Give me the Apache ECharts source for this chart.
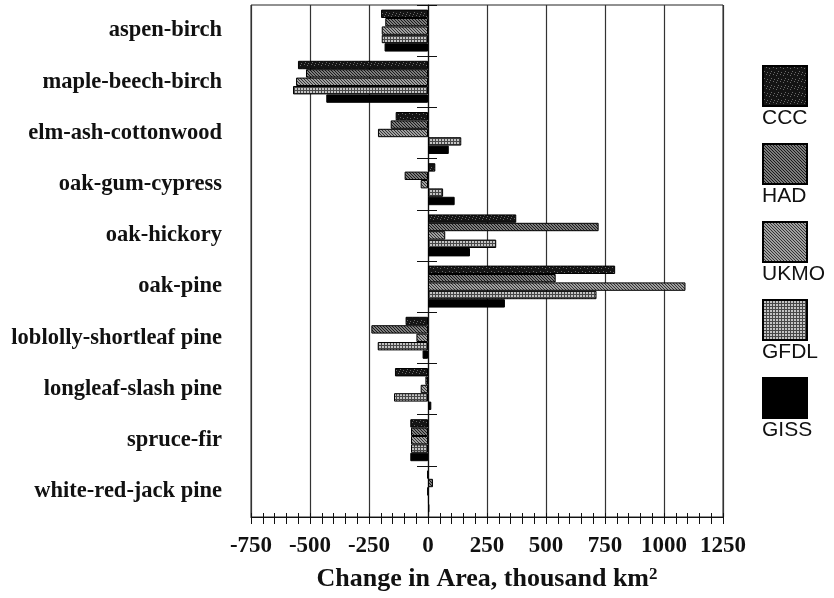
<!DOCTYPE html>
<html><head><meta charset="utf-8">
<script src="https://cdn.jsdelivr.net/npm/echarts@6/dist/echarts.min.js"></script>
<style>html,body{margin:0;padding:0;background:#fff}#c{width:834px;height:598px}</style>
</head><body><div id="c"></div>
<script>
const categories = ['aspen-birch','maple-beech-birch','elm-ash-cottonwood','oak-gum-cypress','oak-hickory','oak-pine','loblolly-shortleaf pine','longleaf-slash pine','spruce-fir','white-red-jack pine'];
const seriesNames = ['CCC','HAD','UKMO','GFDL','GISS'];
const ccc  = [-199,-551,-137, 31,374, 793, -95,-140,-75,-3];
const had  = [-181,-517,-158,-99,723, 541,-240, -11,-72,21];
const ukmo = [-196,-559,-212,-31, 73,1091, -49, -31,-72,-2];
const gfdl = [-196,-572, 141, 64,289, 714,-213,-144,-72, 4];
const giss = [-184,-431,  88,113,178, 326, -23,  14,-75, 6];
const xTicks = {min:-750, max:1250, interval:250};

function makePattern(size, fn){
  const c = document.createElement('canvas'); c.width = size; c.height = size;
  const ctx = c.getContext('2d');
  for(let y=0;y<size;y++) for(let x=0;x<size;x++){ ctx.fillStyle = fn(x,y); ctx.fillRect(x,y,1,1); }
  return {image:c, repeat:'repeat'};
}
const pCCC = makePattern(7,(x,y)=>{const s=(x*3+y*5)%7; return (s===0 && (x+y)%2===0)?'#6a6a6a':'#141414';});
const pHAD = makePattern(3,(x,y)=>((x-y+6)%3===0)?'#1a1a1a':'#7c7c7c');
const pUKMO = makePattern(3,(x,y)=>((x-y+6)%3===0)?'#333333':'#a0a0a0');
const pGFDL = makePattern(3,(x,y)=>(x===0||y===0)?'#484848':'#c4c4c4');
const fills = [pCCC,pHAD,pUKMO,pGFDL,'#000'];
const dataSets = [ccc,had,ukmo,gfdl,giss];

const chart = echarts.init(document.getElementById('c'), null, {renderer:'canvas'});
const serif = 'Liberation Serif, Times New Roman, serif';
const option = {
  animation:false,
  backgroundColor:'#fff',
  grid:{left:251, right:111, top:5, bottom:81, show:true, borderColor:'#222', borderWidth:1, containLabel:false},
  xAxis:[{
    type:'value', min:xTicks.min, max:xTicks.max, interval:xTicks.interval, position:'bottom',
    axisLine:{show:true, onZero:false, lineStyle:{color:'#111', width:1.2}},
    axisTick:{show:true, inside:false, length:7, lineStyle:{color:'#111'}},
    minorTick:{show:true, splitNumber:5, length:7, lineStyle:{color:'#111'}},
    splitLine:{show:true, lineStyle:{color:'#333', width:1.2}},
    axisLabel:{fontFamily:serif, fontWeight:'bold', fontSize:23, color:'#111', margin:18, formatter:v=>String(v)},
    name:'Change in Area, thousand km{sup|2}', nameLocation:'middle', nameGap:49,
    nameTextStyle:{fontFamily:serif, fontWeight:'bold', fontSize:26, color:'#111',
      rich:{sup:{fontFamily:serif, fontWeight:'bold', fontSize:17, color:'#111', verticalAlign:'top'}}}
  },{
    type:'value', min:xTicks.min, max:xTicks.max, interval:xTicks.interval, position:'bottom',
    axisLine:{show:false}, axisLabel:{show:false}, splitLine:{show:false},
    axisTick:{show:true, inside:true, length:4, lineStyle:{color:'#111'}},
    minorTick:{show:true, splitNumber:5, length:4, lineStyle:{color:'#111'}}
  }],
  yAxis:[{
    type:'category', data:categories, inverse:true, position:'left',
    axisLine:{show:true, lineStyle:{color:'#111', width:1.2}},
    axisTick:{show:true, inside:false, length:11, lineStyle:{color:'#111'}},
    splitLine:{show:false},
    axisLabel:{fontFamily:serif, fontWeight:'bold', fontSize:22.5, color:'#111', margin:29}
  },{
    type:'category', data:categories, inverse:true, position:'left',
    axisLine:{show:false}, axisLabel:{show:false}, splitLine:{show:false},
    axisTick:{show:true, inside:true, length:9, lineStyle:{color:'#111'}}
  }],
  legend:{
    orient:'vertical', left:757, top:60, itemWidth:44, itemHeight:40, itemGap:36,
    icon:'rect', formatter:()=>'', textStyle:{fontSize:1},
    data:seriesNames, selectedMode:false
  },
  graphic: seriesNames.map((n,i)=>({
    type:'text', left:762, top:108+78*i,
    style:{text:n, font:'21px "Liberation Sans", Arial, sans-serif', fill:'#111'}
  })),
  series: seriesNames.map((n,i)=>({
    name:n, type:'bar', xAxisIndex:0, yAxisIndex:0, data:dataSets[i],
    barCategoryGap:'18%', barGap:'0%',
    itemStyle:{color:fills[i], borderColor:'#000', borderWidth:1}
  }))
};
chart.setOption(option);
</script></body></html>
